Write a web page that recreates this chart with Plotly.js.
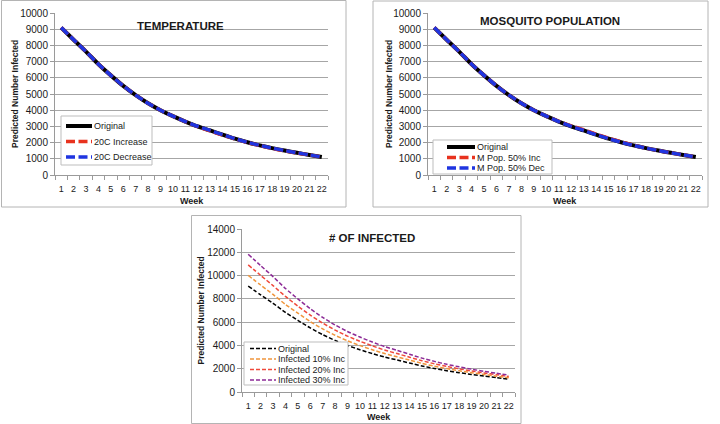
<!DOCTYPE html>
<html>
<head>
<meta charset="utf-8">
<script src="https://cdn.plot.ly/plotly-3.0.1.min.js"></script>
<style>
  html, body { margin: 0; padding: 0; background: #fff; }
  #chart { width: 720px; height: 424px; }
</style>
</head>
<body>
<div id="chart"></div>
<script>
// weeks on the x axis
const weeks = [1, 2, 3, 4, 5, 6, 7, 8, 9, 10, 11, 12, 13, 14, 15, 16, 17, 18, 19, 20, 21, 22];

// TEMPERATURE panel
const tempOriginal = [9100, 8350, 7620, 6840, 6150, 5500, 4930, 4430, 4000, 3630, 3300, 3000, 2750, 2490, 2240, 2020, 1830, 1660, 1510, 1370, 1240, 1110];
const tempInc20C   = [9100, 8350, 7620, 6840, 6150, 5500, 4930, 4430, 4000, 3630, 3290, 2980, 2720, 2470, 2230, 2010, 1820, 1640, 1490, 1360, 1240, 1110];
const tempDec20C   = [9100, 8350, 7620, 6840, 6150, 5500, 4930, 4430, 4000, 3630, 3300, 3000, 2750, 2490, 2240, 2020, 1830, 1660, 1510, 1370, 1240, 1110];

// MOSQUITO POPULATION panel
const mosqOriginal = [9100, 8350, 7620, 6840, 6150, 5500, 4930, 4430, 4000, 3630, 3300, 3000, 2750, 2490, 2240, 2020, 1830, 1660, 1510, 1370, 1240, 1110];
const mosqInc50    = [9100, 8350, 7620, 6840, 6150, 5500, 4930, 4430, 4000, 3630, 3310, 3030, 2790, 2520, 2270, 2050, 1840, 1660, 1510, 1370, 1240, 1110];
const mosqDec50    = [9100, 8350, 7620, 6840, 6150, 5500, 4930, 4430, 4000, 3630, 3300, 3000, 2750, 2490, 2240, 2020, 1830, 1660, 1510, 1370, 1240, 1110];

// # OF INFECTED panel
const infOriginal = [9100, 8350, 7620, 6840, 6150, 5500, 4930, 4430, 4000, 3630, 3300, 3000, 2750, 2490, 2240, 2020, 1830, 1660, 1510, 1370, 1240, 1110];
const infInc10    = [10010, 9190, 8380, 7520, 6770, 6050, 5420, 4870, 4400, 3990, 3630, 3300, 3020, 2740, 2460, 2220, 2010, 1830, 1660, 1510, 1360, 1220];
const infInc20    = [10920, 10020, 9140, 8210, 7380, 6600, 5920, 5320, 4800, 4360, 3960, 3600, 3300, 2990, 2690, 2420, 2200, 1990, 1810, 1640, 1490, 1330];
const infInc30    = [11830, 10860, 9910, 8890, 8000, 7150, 6410, 5760, 5200, 4720, 4290, 3900, 3580, 3240, 2910, 2630, 2380, 2160, 1960, 1780, 1610, 1440];

const W = 720, H = 424;
const px = x => x / W;
const py = y => 1 - y / H;
const FONT = "Liberation Sans, Arial, sans-serif";
const TXT = "#1a1a1a";
const GRID = "#a6a6a6";
const AXIS = "#9a9a9a";

const panels = [
  {
    title: "TEMPERATURE", titleX: 180, titleY: 26,
    frame: [1.5, 0.5, 346, 207], plot: [55, 13, 328, 175],
    ymax: 10000, dtick: 1000, yTitleX: 15, weekY: 201,
    series: [
      { name: "Original", y: tempOriginal, color: "#000000", width: 4, dash: "solid" },
      { name: "20C Increase", y: tempInc20C, color: "#e8321e", width: 3.5, dash: "9px,3.5px" },
      { name: "20C Decrease", y: tempDec20C, color: "#1f35e0", width: 3.5, dash: "9px,3.5px" }
    ],
    legend: { box: [61, 116, 152, 165], rows: [126, 141.5, 157], sample: [66, 92], text: 93 }
  },
  {
    title: "MOSQUITO POPULATION", titleX: 550, titleY: 21,
    frame: [373, 1, 708, 207], plot: [428, 13, 702, 175],
    ymax: 10000, dtick: 1000, yTitleX: 389, weekY: 201,
    series: [
      { name: "Original", y: mosqOriginal, color: "#000000", width: 4, dash: "solid" },
      { name: "M Pop. 50% Inc", y: mosqInc50, color: "#e8321e", width: 3.5, dash: "9px,3.5px" },
      { name: "M Pop. 50% Dec", y: mosqDec50, color: "#1f35e0", width: 3.5, dash: "9px,3.5px" }
    ],
    legend: { box: [433, 140, 552, 174], rows: [147, 157.5, 168], sample: [447, 475], text: 476 }
  },
  {
    title: "# OF INFECTED", titleX: 372, titleY: 238,
    frame: [191.5, 215.5, 521, 423.5], plot: [242, 229, 515, 392],
    ymax: 14000, dtick: 2000, yTitleX: 200, weekY: 417,
    series: [
      { name: "Original", y: infOriginal, color: "#000000", width: 1.5, dash: "4px,2px" },
      { name: "Infected 10% Inc", y: infInc10, color: "#f0953c", width: 1.5, dash: "4px,2px" },
      { name: "Infected 20% Inc", y: infInc20, color: "#f0483a", width: 1.5, dash: "4px,2px" },
      { name: "Infected 30% Inc", y: infInc30, color: "#8c2a96", width: 1.5, dash: "4px,2px" }
    ],
    legend: { box: [244, 342, 348, 385], rows: [348.5, 359, 369.5, 380], sample: [250, 276], text: 277 }
  }
];

const traces = [];
const shapes = [];
const annotations = [];
const layout = {
  width: W, height: H,
  margin: { l: 0, r: 0, t: 0, b: 0 },
  paper_bgcolor: "#ffffff", plot_bgcolor: "#ffffff",
  showlegend: false,
  font: { family: FONT, color: TXT }
};

panels.forEach((p, i) => {
  const n = i === 0 ? "" : String(i + 1);
  const [l, t, r, b] = p.plot;

  layout["xaxis" + n] = {
    domain: [px(l), px(r)], anchor: "y" + n,
    range: [0.5, 22.5], tickmode: "linear", tick0: 1, dtick: 1,
    showgrid: false, zeroline: false,
    showline: true, linecolor: AXIS, linewidth: 1,
    ticks: "", ticklabelstandoff: 5, tickangle: 0,
    minor: { ticks: "outside", tick0: 0.5, dtick: 1, ticklen: 4, tickcolor: AXIS, showgrid: false },
    tickfont: { size: 9, color: TXT, family: FONT },
    fixedrange: true
  };
  layout["yaxis" + n] = {
    domain: [py(b), py(t)], anchor: "x" + n,
    range: [0, p.ymax], tickmode: "linear", tick0: 0, dtick: p.dtick,
    tickformat: "d",
    showgrid: true, gridcolor: GRID, gridwidth: 1, zeroline: false,
    showline: true, linecolor: AXIS, linewidth: 1,
    ticks: "outside", ticklen: 4, tickcolor: AXIS,
    tickfont: { size: 10, color: TXT, family: FONT },
    fixedrange: true
  };

  p.series.forEach(s => {
    traces.push({
      type: "scatter", mode: "lines", name: s.name,
      x: weeks, y: s.y, xaxis: "x" + n, yaxis: "y" + n,
      line: { color: s.color, width: s.width, dash: s.dash, shape: "spline", smoothing: 0.6 },
      hoverinfo: "skip"
    });
  });

  // panel frame
  const [fx0, fy0, fx1, fy1] = p.frame;
  shapes.push({
    type: "rect", xref: "paper", yref: "paper",
    x0: px(fx0), x1: px(fx1), y0: py(fy1), y1: py(fy0),
    line: { color: "#b4b4b4", width: 1 }, layer: "below"
  });

  // titles
  annotations.push({
    xref: "paper", yref: "paper", x: px(p.titleX), y: py(p.titleY),
    xanchor: "center", yanchor: "middle", showarrow: false,
    text: "<b>" + p.title + "</b>", font: { size: 11.5, color: TXT, family: FONT }
  });
  annotations.push({
    xref: "paper", yref: "paper", x: px(p.yTitleX), y: py((t + b) / 2),
    xanchor: "center", yanchor: "middle", showarrow: false, textangle: -90,
    text: "<b>Predicted Number Infected</b>", font: { size: 8.5, color: TXT, family: FONT }
  });
  annotations.push({
    xref: "paper", yref: "paper", x: px((l + r) / 2), y: py(p.weekY),
    xanchor: "center", yanchor: "middle", showarrow: false,
    text: "<b>Week</b>", font: { size: 9, color: TXT, family: FONT }
  });

  // legend box, drawn by hand so the rows can sit as close as in the original
  const lg = p.legend;
  shapes.push({
    type: "rect", xref: "paper", yref: "paper",
    x0: px(lg.box[0]), x1: px(lg.box[2]), y0: py(lg.box[3]), y1: py(lg.box[1]),
    fillcolor: "#ffffff", line: { color: "#bdbdbd", width: 1 }, layer: "above"
  });
  p.series.forEach((s, k) => {
    shapes.push({
      type: "line", xref: "paper", yref: "paper",
      x0: px(lg.sample[0]), x1: px(lg.sample[1]), y0: py(lg.rows[k]), y1: py(lg.rows[k]),
      line: { color: s.color, width: s.width, dash: s.dash }, layer: "above"
    });
    annotations.push({
      xref: "paper", yref: "paper", x: px(lg.text), y: py(lg.rows[k]),
      xanchor: "left", yanchor: "middle", showarrow: false, borderpad: 0,
      text: s.name, font: { size: 9, color: TXT, family: FONT }
    });
  });
});

layout.shapes = shapes;
layout.annotations = annotations;

Plotly.newPlot("chart", traces, layout, { displayModeBar: false, staticPlot: true });
</script>
</body>
</html>
